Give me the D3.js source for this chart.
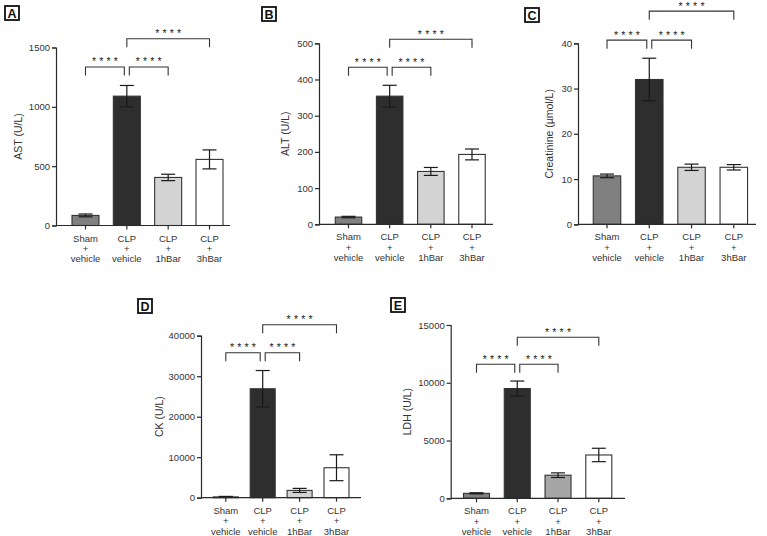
<!DOCTYPE html>
<html><head><meta charset="utf-8">
<script src="https://cdn.jsdelivr.net/npm/d3@7"></script>
<style>body{margin:0;background:#fff}svg{display:block;font-family:"Liberation Sans",Arial,sans-serif}</style>
</head><body><svg id="c" width="767" height="536"></svg>
<script>
// ---- data ----
const groups = ["Sham + vehicle","CLP + vehicle","CLP + 1hBar","CLP + 3hBar"];
const groupLines = [["Sham","+","vehicle"],["CLP","+","vehicle"],["CLP","+","1hBar"],["CLP","+","3hBar"]];
const panelIds = ["A","B","C","D","E"];
const yTitles = ["AST (U/L)","ALT (U/L)","Creatinine (µmol/L)","CK (U/L)","LDH (U/L)"];
const yMaxes = [1500,500,40,40000,15000];
const yTicks = [[0,500,1000,1500],[0,100,200,300,400,500],[0,10,20,30,40],[0,10000,20000,30000,40000],[0,5000,10000,15000]];
const astMean=[85,1090,405,557],     astSem=[12,90,27,80];
const altMean=[20,354,146,193],      altSem=[2,30,11,15];
const creMean=[10.7,32,12.6,12.6],   creSem=[0.4,4.7,0.7,0.6];
const ckMean=[200,26900,1800,7400],  ckSem=[120,4500,500,3200];
const ldhMean=[430,9500,2000,3750],  ldhSem=[50,650,200,580];
const means=[astMean,altMean,creMean,ckMean,ldhMean];
const sems=[astSem,altSem,creSem,ckSem,ldhSem];
const comparisons=[[0,1],[1,2],[1,3]];
const sigLabels=["****","****","****"];
const bracketLevels=[[1336,1336,1574],[434,434,511],[40.7,40.7,47.1],[35800,35800,42720],[11600,11600,13935]];

// ---- layout / style ----
const layout=[
 {ax:56,   y0:225.5, y1:47.5,  xEnd:230,   c0:85.5,  c3:209.5, bw:27,   lx:4,   ly:5,   tx:18},
 {ax:319,  y0:224.3, y1:43.3,  xEnd:493,   c0:348.5, c3:472,   bw:26.5, lx:261, ly:6,   tx:285},
 {ax:578,  y0:224.3, y1:43.3,  xEnd:756,   c0:607,   c3:733.8, bw:27.5, lx:524, ly:7,   tx:549},
 {ax:201,  y0:497.7, y1:335.7, xEnd:361,   c0:225.8, c3:336.5, bw:25,   lx:137, ly:298, tx:159},
 {ax:450.7,y0:498.3, y1:325,   xEnd:625,   c0:476.5, c3:598.8, bw:26,   lx:390, ly:297, tx:407}
];
const fills=[["#808080","#2e2e2e","#d3d3d3","#ffffff"],["#808080","#2e2e2e","#d3d3d3","#ffffff"],["#808080","#2e2e2e","#d3d3d3","#ffffff"],["#808080","#2e2e2e","#d3d3d3","#ffffff"],["#808080","#2e2e2e","#a6a6a6","#ffffff"]];
const ink="#2a2a2a";

const svg=d3.select("#c");
svg.append("rect").attr("width",767).attr("height",536).attr("fill","#fff");

panelIds.forEach((id,p)=>{
  const L=layout[p];
  const g=svg.append("g");
  const x=d3.scalePoint().domain(groups).range([L.c0,L.c3]);
  const y=d3.scaleLinear().domain([0,yMaxes[p]]).range([L.y0,L.y1]);

  // panel label
  g.append("rect").attr("x",L.lx+1).attr("y",L.ly+1).attr("width",14).attr("height",14)
    .attr("fill","none").attr("stroke","#111").attr("stroke-width",1.8);
  g.append("text").attr("x",L.lx+8).attr("y",L.ly+12.8).attr("text-anchor","middle")
    .attr("font-size",12.5).attr("font-weight","bold").attr("fill","#111").text(id);

  // y axis
  const ya=g.append("g").attr("transform",`translate(${L.ax},0)`)
    .call(d3.axisLeft(y).tickValues(yTicks[p]).tickSize(4).tickPadding(2).tickFormat(d3.format("d")));
  ya.select(".domain").attr("stroke",ink).attr("stroke-width",1.2);
  ya.selectAll(".tick line").attr("stroke",ink).attr("stroke-width",1.2);
  ya.selectAll(".tick text").attr("font-size",9.5).attr("fill","#333").attr("font-family","Liberation Sans, Arial, sans-serif");

  // y title
  g.append("text").attr("transform",`translate(${L.tx},${(L.y0+L.y1)/2}) rotate(-90)`)
    .attr("text-anchor","middle").attr("dy","0.35em").attr("font-size",10.5).attr("fill","#333").text(yTitles[p]);

  // bars
  groups.forEach((grp,i)=>{
    const cx=x(grp);
    g.append("rect").attr("x",cx-L.bw/2).attr("y",y(means[p][i])).attr("width",L.bw)
      .attr("height",L.y0-y(means[p][i])).attr("fill",fills[p][i]).attr("stroke","#333").attr("stroke-width",1.1);
  });
  // error bars
  groups.forEach((grp,i)=>{
    const cx=x(grp), hi=y(means[p][i]+sems[p][i]), lo=y(Math.max(0,means[p][i]-sems[p][i]));
    const eg=g.append("g").attr("stroke","#1a1a1a").attr("stroke-width",1.2);
    eg.append("line").attr("x1",cx).attr("x2",cx).attr("y1",hi).attr("y2",lo);
    eg.append("line").attr("x1",cx-7).attr("x2",cx+7).attr("y1",hi).attr("y2",hi);
    eg.append("line").attr("x1",cx-7).attr("x2",cx+7).attr("y1",lo).attr("y2",lo);
  });

  // x axis
  g.append("line").attr("x1",L.ax).attr("x2",L.xEnd).attr("y1",L.y0).attr("y2",L.y0).attr("stroke",ink).attr("stroke-width",1.2);
  groups.forEach((grp,i)=>{
    const cx=x(grp);
    g.append("line").attr("x1",cx).attr("x2",cx).attr("y1",L.y0).attr("y2",L.y0+4).attr("stroke",ink).attr("stroke-width",1.2);
    groupLines[i].forEach((t,k)=>{
      g.append("text").attr("x",cx).attr("y",L.y0+16+k*10.4).attr("text-anchor","middle")
        .attr("font-size",9.5).attr("fill","#333").text(t);
    });
  });

  // significance brackets
  comparisons.forEach(([a,b],k)=>{
    let xa=x(groups[a]), xb=x(groups[b]);
    if(k===0) xb-=2.5;
    if(k===1) xa+=2.5;
    const by=y(bracketLevels[p][k]);
    g.append("path").attr("d",`M${xa},${by+8.5}V${by}H${xb}V${by+8.5}`)
      .attr("fill","none").attr("stroke","#333").attr("stroke-width",1.1);
    g.append("text").attr("x",(xa+xb)/2+1.6).attr("y",by-1.5).attr("text-anchor","middle")
      .attr("font-size",10.5).attr("letter-spacing","3.2px").attr("fill","#222").text(sigLabels[k]);
  });
});
</script></body></html>
